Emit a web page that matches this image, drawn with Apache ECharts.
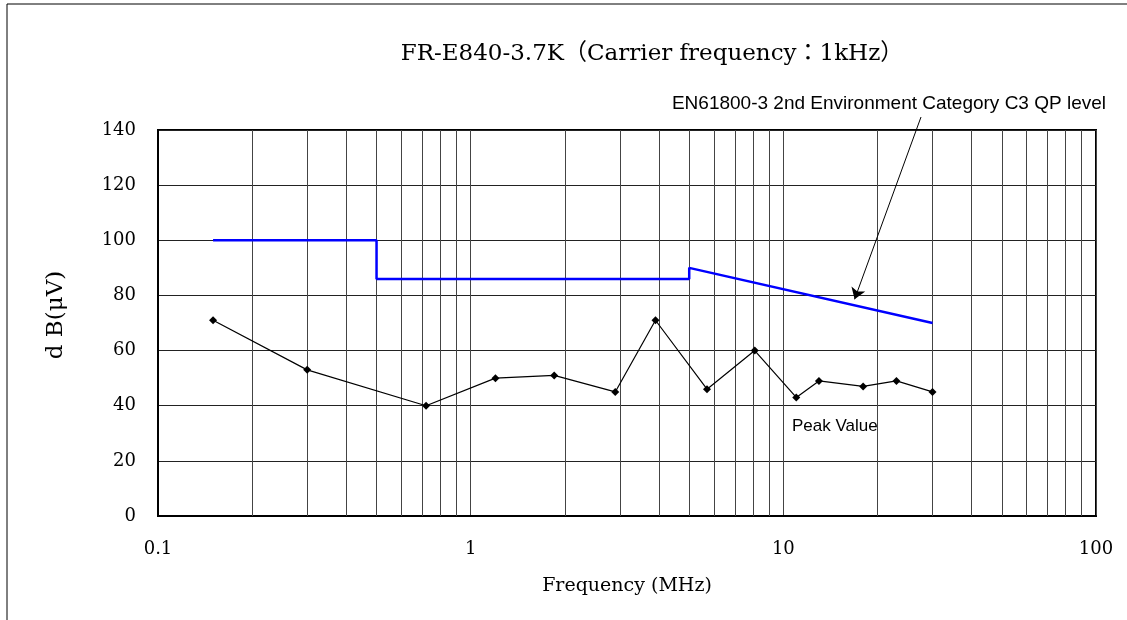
<!DOCTYPE html>
<html>
<head>
<meta charset="utf-8">
<script src="https://cdn.jsdelivr.net/npm/echarts@6/dist/echarts.min.js"></script>
<style>
html,body{margin:0;padding:0;background:#fff;}
#c{width:1127px;height:620px;}
</style>
</head>
<body>
<div id="c"></div>
<script>
// ---- data ----
var peakFreq = [0.15, 0.3, 0.72, 1.2, 1.85, 2.9, 3.9, 5.7, 8.1, 11, 13, 18, 23, 30];
var peakDb   = [71, 53, 40, 50, 51, 45, 71, 46, 60, 43, 49, 47, 49, 45];
var limitFreq = [0.15, 0.5, 0.5, 5, 5, 30];
var limitDb   = [100, 100, 86, 86, 90, 70];
var minorGridFreq = [0.2,0.3,0.4,0.5,0.6,0.7,0.8,0.9, 2,3,4,5,6,7,8,9, 20,30,40,50,60,70,80,90];
var yTicks = [0, 20, 40, 60, 80, 100, 120, 140];
var arrowTip = [16.9, 78.6];

var serif = '"DejaVu Serif","Noto Sans CJK JP",serif';
var sans = '"Liberation Sans",Arial,sans-serif';

function pairs(xs, ys){ return xs.map(function(x,i){ return [x, ys[i]]; }); }

var chart = echarts.init(document.getElementById('c'), null, {renderer:'canvas'});
chart.setOption({
  backgroundColor: '#fff',
  animation: false,
  title: {
    text: 'FR-E840-3.7K（Carrier frequency：1kHz）',
    left: 647, top: 38, textAlign: 'center',
    textStyle: {fontFamily: serif, fontSize: 23, fontWeight: 'normal', color: '#000'}
  },
  grid: {left: 158, right: 31, top: 130, bottom: 104, show: true, borderColor: '#000', borderWidth: 2, backgroundColor: 'transparent'},
  xAxis: {
    type: 'log', logBase: 10, min: 0.1, max: 100,
    name: 'Frequency (MHz)', nameLocation: 'middle', nameGap: 61,
    nameTextStyle: {fontFamily: serif, fontSize: 19, color: '#000'},
    axisLine: {show: true, lineStyle: {color: '#000', width: 2}},
    axisTick: {show: false},
    axisLabel: {fontFamily: serif, fontSize: 18, color: '#000', margin: 24,
      formatter: function(v){ return String(+v.toPrecision(3)); }},
    splitLine: {show: true, lineStyle: {color: '#444', width: 1}},
    minorTick: {show: false}, minorSplitLine: {show: false}
  },
  yAxis: {
    type: 'value', min: 0, max: 140, interval: 20,
    name: 'd B(μV)', nameLocation: 'middle', nameGap: 90, nameRotate: 90,
    nameTextStyle: {fontFamily: serif, fontSize: 23, color: '#000', padding: [0, 0, 0, 16]},
    axisLine: {show: true, lineStyle: {color: '#000', width: 2}},
    axisTick: {show: false},
    axisLabel: {fontFamily: serif, fontSize: 18, color: '#000', margin: 22,
      formatter: function(v){ return yTicks.indexOf(v) >= 0 ? String(v) : ''; }},
    splitLine: {show: true, lineStyle: {color: '#222', width: 1}}
  },
  series: [
    {
      type: 'line', name: 'grid', data: [], z: 1, silent: true,
      markLine: {
        silent: true, z: 1, symbol: ['none','none'], animation: false,
        label: {show: false},
        lineStyle: {color: '#444', width: 1, type: 'solid'},
        data: minorGridFreq.map(function(f){ return {xAxis: f}; })
      }
    },
    {
      type: 'line', name: 'limit', data: pairs(limitFreq, limitDb), z: 3,
      showSymbol: false, symbol: 'none',
      lineStyle: {color: '#0000ff', width: 2.5},
      markLine: {
        silent: true, z: 6, symbol: ['none', 'arrow'], symbolSize: 11, animation: false,
        label: {show: false},
        lineStyle: {color: '#000', width: 1, type: 'solid'},
        data: [[{x: 921, y: 117}, {coord: arrowTip}]]
      }
    },
    {
      type: 'line', name: 'peak', data: pairs(peakFreq, peakDb), z: 4,
      symbol: 'diamond', symbolSize: 8, showSymbol: true,
      itemStyle: {color: '#000'},
      lineStyle: {color: '#000', width: 1.2}
    }
  ],
  graphic: [
    {type: 'line', shape: {x1: 7, y1: 4, x2: 1127, y2: 4}, style: {stroke: '#000', lineWidth: 1}},
    {type: 'line', shape: {x1: 7, y1: 4, x2: 7, y2: 620}, style: {stroke: '#000', lineWidth: 1}},
    {type: 'text', right: 21, top: 94, style: {text: 'EN61800-3 2nd Environment Category C3 QP level', font: '19px ' + sans, fill: '#000'}},
    {type: 'text', left: 792, top: 418, style: {text: 'Peak Value', font: '17px ' + sans, fill: '#000'}}
  ]
});
</script>
</body>
</html>
